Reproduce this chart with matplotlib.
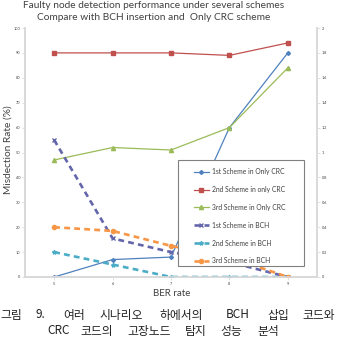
import matplotlib
matplotlib.use("Agg")
import matplotlib.pyplot as plt
from matplotlib.patches import Rectangle

# ---- data ----
categories = ["5", "6", "7", "8", "9"]
crc_1st = [0, 7, 8, 60, 90]
crc_2nd = [90, 90, 90, 89, 94]
crc_3rd = [47, 52, 51, 60, 84]
bch_1st = [1.1, 0.31, 0.2, 0.12, 0]
bch_2nd = [0.2, 0.1, 0, 0, 0]
bch_3rd = [0.4, 0.37, 0.25, 0.16, 0]
left_ticks = list(range(0, 101, 10))
right_ticks = [0, 0.2, 0.4, 0.6, 0.8, 1, 1.2, 1.4, 1.6, 1.8, 2]
right_ticklabels = ["0", "0.2", "0.4", "0.6", "0.8", "1", "1.2", "1.4", "1.6", "1.8", "2"]

title1 = "Faulty node detection performance under several schemes"
title2 = "Compare with BCH insertion and  Only CRC scheme"
ylabel = "Misdection Rate (%)"
xlabel = "BER rate"
caption1 = ["그림", "9.", "여러", "시나리오", "하에서의", "BCH", "삽입", "코드와"]
caption2 = ["CRC", "코드의", "고장노드", "탐지", "성능", "분석"]

plt.rcParams['font.family'] = ['Lato', 'DejaVu Sans']

W, H = 337, 350
fig = plt.figure(figsize=(W / 100, H / 100), dpi=100)
L, R, T, B = 25, 317, 28, 277
ax = fig.add_axes([L / W, 1 - B / H, (R - L) / W, (B - T) / H])
ax2 = ax.twinx()

xs = list(range(len(categories)))
c_blue, c_red, c_green = "#4F81BD", "#C0504D", "#9BBB59"
c_purple, c_teal, c_orange = "#6466AC", "#4BACC6", "#F79646"

h = []
h += ax.plot(xs, crc_1st, color=c_blue, lw=0.9, marker="D", ms=2, label="1st Scheme in Only CRC")
h += ax.plot(xs, crc_2nd, color=c_red, lw=0.9, marker="s", ms=3.5, label="2nd Scheme in only CRC")
h += ax.plot(xs, crc_3rd, color=c_green, lw=0.9, marker="^", ms=3, label="3rd Scheme in Only CRC")
h += ax2.plot(xs, bch_1st, color=c_purple, lw=1.9, ls=(0, (2.2, 1.6)), marker="x", ms=2.5, mew=1, label="1st Scheme in BCH")
h += ax2.plot(xs, bch_2nd, color=c_teal, lw=1.9, ls=(0, (2.2, 1.6)), marker="*", ms=3, label="2nd Scheme in BCH")
h += ax2.plot(xs, bch_3rd, color=c_orange, lw=1.9, ls=(0, (2.2, 1.6)), marker="o", ms=3, label="3rd Scheme in BCH")

ax.set_xlim(-0.5, len(categories) - 0.5)
ax.set_ylim(0, 100)
ax2.set_ylim(0, 2)
ax.set_xticks(xs)
ax.set_xticklabels(categories)
ax.set_yticks(left_ticks)
ax2.set_yticks(right_ticks)
ax2.set_yticklabels(right_ticklabels)

for a in (ax, ax2):
    a.spines["top"].set_visible(False)
    for s in ("left", "right", "bottom"):
        a.spines[s].set_color("#D9D9D9")
        a.spines[s].set_linewidth(1.2)
    a.tick_params(length=2, width=0.6, color="#D9D9D9", labelsize=2.8, labelcolor="#404040", pad=1.5)

# legend box
fig.add_artist(Rectangle((178 / W, 1 - 266 / H), 126 / W, 106 / H, transform=fig.transFigure,
                         facecolor="white", edgecolor="#808080", lw=0.8, zorder=4))
leg = fig.legend(handles=h, loc="upper left", bbox_to_anchor=(194 / W, 1 - 168 / H),
                 frameon=False, fontsize=4.9, handlelength=2.2, handletextpad=0.4,
                 labelspacing=1.6, borderpad=0, borderaxespad=0)
leg.set_zorder(5)
for t in leg.get_texts():
    t.set_color("#404040")

fig.text(153.5 / W, 1 - 6 / H, title1, ha="center", va="center", fontsize=7.3, color="#404040")
fig.text(153.5 / W, 1 - 17 / H, title2, ha="center", va="center", fontsize=7.3, color="#404040")
fig.text(8 / W, 1 - 150 / H, ylabel, ha="center", va="center", rotation=90, fontsize=7.3, color="#404040")
fig.text(172 / W, 1 - 293 / H, xlabel, ha="center", va="center", fontsize=7, color="#404040")

# caption (justified first line, centered second)
cap_font = ['Noto Sans CJK KR', 'DejaVu Sans']
x1 = [0, 35, 63, 99, 159, 226, 267, 302]
for w, xx in zip(caption1, x1):
    fig.text(xx / W, 1 - 315 / H, w, ha="left", va="center", fontsize=8.5, family=cap_font, color="#222222")
x2 = [47, 80, 127, 185, 220, 257]
for w, xx in zip(caption2, x2):
    fig.text(xx / W, 1 - 331 / H, w, ha="left", va="center", fontsize=8.5, family=cap_font, color="#222222")

fig.savefig("out.png", dpi=100, facecolor="white")
